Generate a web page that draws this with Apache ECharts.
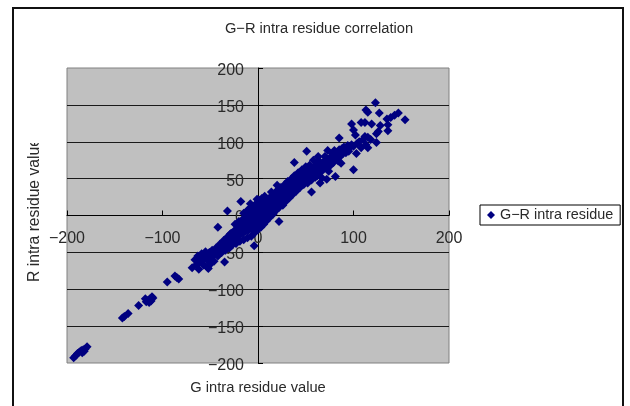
<!DOCTYPE html>
<html><head><meta charset="utf-8">
<style>html,body{margin:0;padding:0;background:#fff}#c{width:630px;height:406px}</style>
<script src="https://cdn.jsdelivr.net/npm/echarts@6/dist/echarts.min.js"></script>
</head><body><div id="c"></div>
<script>
const chartTitle = 'G−R intra residue correlation';
const seriesName = 'G−R intra residue';
const xTitle = 'G intra residue value';
const yTitle = 'R intra residue value';
const lowerBlob = [[-69,-71],[-66,-60],[-64,-66],[-63,-55],[-62,-73],[-60,-62],[-59,-52],[-57,-67],[-56,-58],[-55,-49],[-53,-70],[-52,-62],[-52,-54],[-50,-66],[-49,-57],[-48,-47],[-46,-62],[-45,-52],[-44,-44],[-61,-63],[-58,-60],[-54,-57],[-51,-50],[-47,-55],[-43,-48]];
const coreLow = [[-42,-55],[-41,-47],[-40,-39],[-38,-50],[-37,-43],[-36,-34],[-34,-47],[-33,-39],[-32,-29],[-30,-44],[-30,-35],[-29,-25],[-27,-40],[-26,-31],[-25,-21],[-24,-12],[-23,-38],[-22,-28],[-21,-18],[-20,-8],[-19,-35],[-18,-25],[-17,-15],[-16,-5],[-15,3],[-15,-33],[-14,-22],[-13,-12],[-12,-2],[-11,7],[-11,-30],[-10,-20],[-9,-10],[-9,0],[-8,10],[-8,16],[-7,-28],[-6,-18],[-6,-8],[-5,2],[-5,12],[-4,-24],[-3,-14],[-3,-4],[-2,6],[-2,16],[-1,22],[0,-19],[0,-9],[1,1],[1,11],[1,21]];
const coreHigh = [[3,-16],[3,-6],[4,4],[4,14],[4,23],[6,-12],[6,-2],[7,8],[7,18],[7,26],[9,-7],[9,3],[10,13],[10,22],[12,-3],[12,6],[13,15],[13,25],[14,32],[16,2],[16,11],[17,20],[17,29],[19,7],[19,16],[20,25],[20,34],[22,11],[23,20],[23,30],[24,38],[26,14],[26,24],[27,33],[28,42],[29,19],[30,28],[30,37],[31,46],[33,24],[33,33],[34,42],[35,50],[36,28],[37,37],[37,46],[38,54],[40,33],[40,42],[41,50],[42,58],[44,38],[44,47],[45,55],[46,62],[48,42],[48,51],[49,59],[50,66],[52,44],[52,53],[53,62],[54,68],[56,48],[57,57],[58,65],[60,52],[61,60],[62,69],[63,80],[65,44],[65,58],[66,65],[68,72],[70,70]];
const coreFill = [[-40,-44],[-36,-42],[-32,-37],[-28,-33],[-28,-24],[-24,-30],[-24,-21],[-20,-27],[-20,-17],[-16,-23],[-16,-13],[-12,-20],[-12,-10],[-8,-15],[-8,-5],[-8,3],[-4,-9],[-4,1],[-4,8],[0,-4],[0,5],[0,14],[2,-11],[5,-8],[5,9],[5,18],[8,-3],[8,13],[11,-1],[11,9],[11,18],[15,6],[15,15],[15,24],[18,12],[18,24],[21,16],[21,29],[25,19],[25,29],[28,24],[32,29],[32,39],[35,33],[35,44],[39,37],[39,48],[43,43],[43,52],[47,46],[47,57],[51,50],[51,61],[55,54],[55,63],[59,58],[59,66],[64,63],[67,68]];
const upperBand = [[72,49],[73,66],[73,88],[75,78],[77,75],[78,84],[80,88],[81,53],[82,80],[84,74],[85,89],[87,71],[88,91],[90,93],[92,85],[94,95],[96,92],[98,96],[100,94],[103,84],[104,98],[106,100],[108,92],[110,103],[112,107],[113,96],[115,92],[115,106],[118,103],[58,75],[62,54],[64,74],[67,51],[69,63],[70,80],[72,72],[74,60],[76,68],[79,72],[81,78],[83,85],[86,80],[89,84],[91,88],[95,87]];
const topArm = [[98,124],[100,116],[102,109],[108,126],[112,126],[119,124],[124,99],[124,111],[126,114],[128,122],[127,139],[123,153],[113,143],[115,140],[135,131],[136,123],[136,115],[139,133],[143,136],[147,139],[154,130]];
const tail = [[-193,-193],[-191,-190],[-189,-187],[-187,-185],[-185,-183],[-184,-186],[-183,-182],[-181,-181],[-182,-184],[-179,-178],[-142,-139],[-140,-137],[-136,-133],[-125,-122],[-118,-113],[-117,-117],[-115,-115],[-114,-118],[-113,-113],[-112,-116],[-111,-110],[-110,-112],[-95,-90],[-87,-82],[-85,-84],[-83,-86]];
const strays = [[-52,-72],[-35,-63],[-42,-16],[-32,6],[-18,19],[-4,-41],[22,-8],[20,41],[38,72],[51,87],[56,32],[85,105],[100,62]];
const xTicksMinus = '−';
const allPoints = [].concat(lowerBlob, coreLow, coreHigh, coreFill, upperBand, topArm, tail, strays);
const signed = v => v < 0 ? xTicksMinus + Math.abs(v) : String(v);
const fontFamily = '"Liberation Sans", sans-serif';
const ink = '#2a2a2a';
const chart = echarts.init(document.getElementById('c'), null, {renderer:'canvas'});
chart.setOption({
  animation:false,
  backgroundColor:'#fff',
  title:{text:chartTitle,left:319,top:21,textAlign:'center',padding:0,textStyle:{fontFamily,fontSize:14.7,fontWeight:'normal',color:ink}},
  legend:{left:480,top:205,orient:'vertical',padding:[3,7,3,7],backgroundColor:'#fff',borderColor:'#000',borderWidth:1,borderRadius:0,itemWidth:8,itemHeight:8,
    textStyle:{fontFamily,fontSize:14.4,color:ink},data:[{name:seriesName,icon:'diamond'}]},
  grid:{left:67,top:68,width:382,height:295,outerBoundsMode:'none',show:true,backgroundColor:'#c0c0c0',borderColor:'#808080',borderWidth:1},
  xAxis:{type:'value',min:-200,max:200,interval:100,position:'bottom',offset:-147.5,
    name:xTitle,nameLocation:'middle',nameGap:165,nameMoveOverlap:false,nameTextStyle:{fontFamily,fontSize:14.7,color:ink},
    axisLine:{onZero:false,lineStyle:{color:'#000',width:1}},
    axisTick:{show:true,inside:true,length:5,lineStyle:{color:'#000'}},
    axisLabel:{formatter:signed,margin:15,fontFamily,fontSize:16,color:ink,showMinLabel:true,showMaxLabel:true},
    splitLine:{show:false}},
  yAxis:{type:'value',min:-200,max:200,interval:50,position:'left',offset:-191,
    name:yTitle,nameLocation:'middle',nameGap:215,nameMoveOverlap:false,nameTextStyle:{fontFamily,fontSize:15.7,color:ink,padding:[0,0,0,11]},
    axisLine:{onZero:false,lineStyle:{color:'#000',width:1}},
    axisTick:{show:true,inside:true,length:5,lineStyle:{color:'#000'}},
    axisLabel:{formatter:signed,margin:14,fontFamily,fontSize:16,color:ink,showMinLabel:true,showMaxLabel:true,verticalAlign:'top',lineHeight:5},
    splitLine:{show:true,showMinLine:false,showMaxLine:false,lineStyle:{color:'#1a1a1a',width:1}}},
  series:[{name:seriesName,type:'scatter',symbol:'diamond',symbolSize:9,clip:false,itemStyle:{color:'#000080',opacity:1},data:allPoints,z:5}],
  graphic:[
    {type:'rect',z:1,silent:true,shape:{x:13,y:8,width:610,height:420},style:{fill:'none',stroke:'#111',lineWidth:2}},
    {type:'rect',z:100,silent:true,shape:{x:22,y:125,width:24,height:18},style:{fill:'#fff'}}
  ]
});
</script></body></html>
